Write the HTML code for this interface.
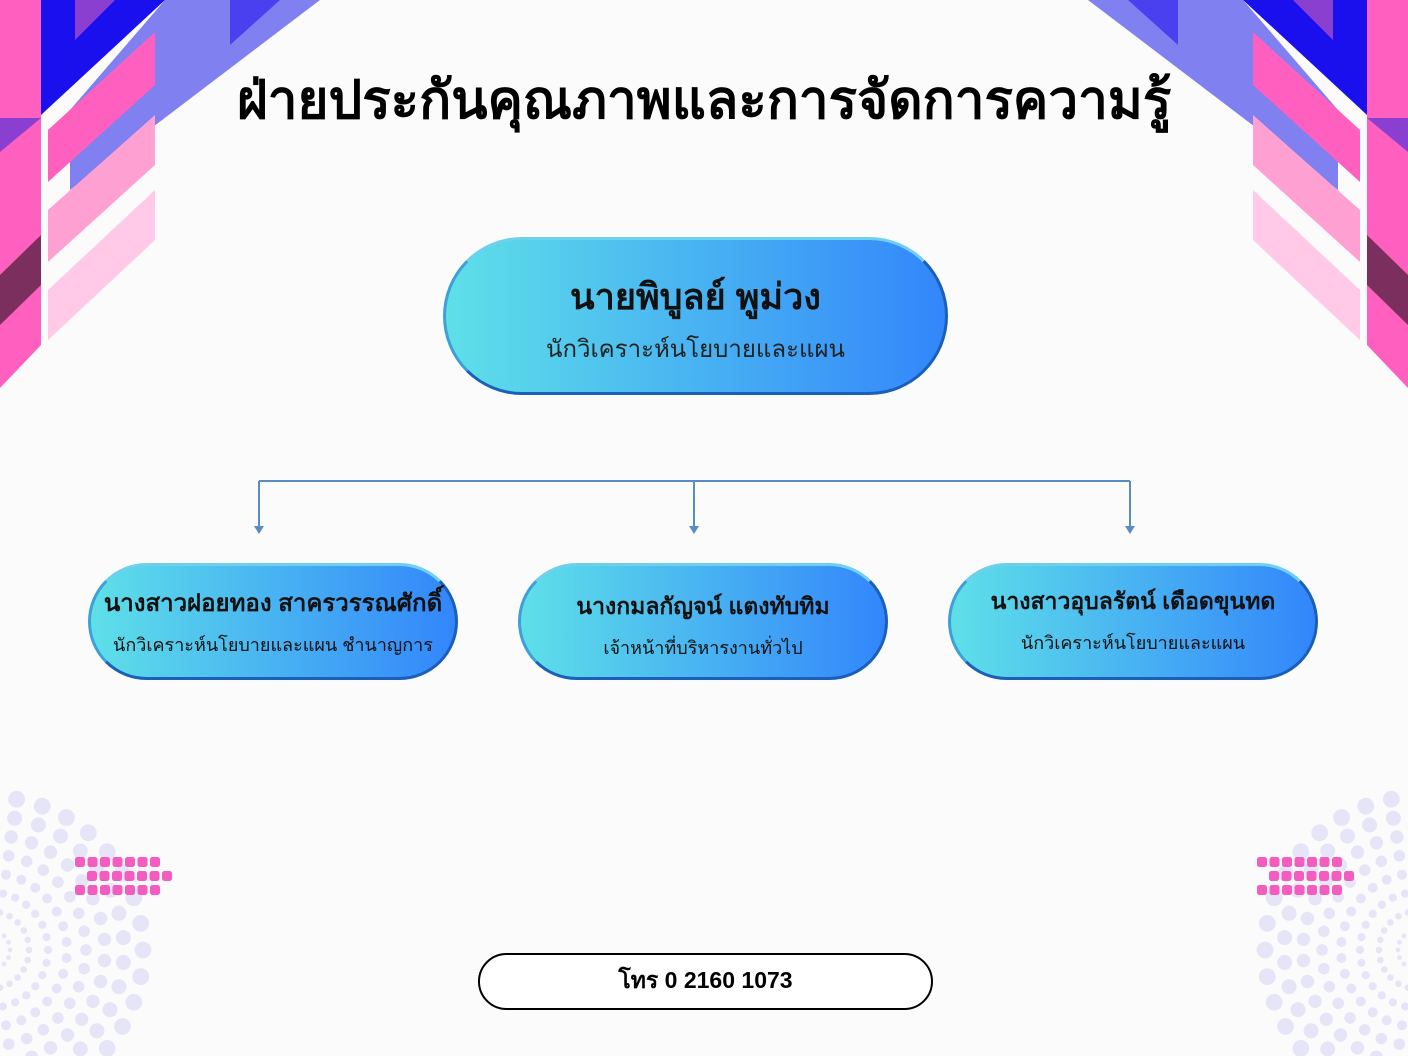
<!DOCTYPE html>
<html><head><meta charset="utf-8"><style>
body{margin:0;width:1408px;height:1056px;background:#fbfbfb;position:relative;overflow:hidden;font-family:"Liberation Sans","Noto Sans CJK SC","WenQuanYi Zen Hei",sans-serif;}
svg.bg{position:absolute;left:0;top:0}
.t{position:absolute;left:0;width:1408px;text-align:center;top:58px;font-size:53px;font-weight:bold;color:#000}
.box{position:absolute;box-sizing:border-box;border-radius:80px;background:linear-gradient(90deg,#5ee0e8,#3386fb);border:3px solid #1a5fb8;border-top-color:#6fd0ee;border-left-color:#3da0d8;text-align:center;color:#111}
.n{font-weight:bold}
.ph{position:absolute;left:478px;top:953px;width:455px;height:57px;box-sizing:border-box;border:2px solid #000;border-radius:30px;text-align:center;font-weight:bold;font-size:23px;line-height:51px;background:#fff}
</style></head><body>
<svg class="bg" width="1408" height="1056" id="s">
<g id="deco">
<polygon points="0,0 41,0 41,345 0,388" fill="#ff5fbf"/>
<polygon points="0,118 41,118 0,152" fill="#8a3fd0"/>
<polygon points="0,275 41,235 41,285 0,325" fill="#7a2f5f"/>
<polygon points="41,0 165,0 41,115" fill="#1a10ee"/>
<polygon points="75,0 115,0 75,40" fill="#8a3fd0"/>
<polygon points="165,0 320,0 70,190 70,110" fill="#8080f0"/>
<polygon points="230,0 280,0 230,45" fill="#4a40f0"/>
<polygon points="48,130 155,32 155,85 48,182" fill="#ff5fbf"/>
<polygon points="48,210 155,115 155,165 48,262" fill="#ffa0d2"/>
<polygon points="48,290 155,190 155,240 48,340" fill="#ffc9e7"/>
</g>
<use href="#deco" transform="translate(1408,0) scale(-1,1)"/>
<g id="dots"></g>
<g stroke="#5b8cc0" stroke-width="2" fill="none">
<path d="M259,481 H1130 M259,481 V528 M694,481 V528 M1130,481 V528"/>
</g>
<g fill="#5b8cc0"><path d="M254,526 h10 l-5,8z"/><path d="M689,526 h10 l-5,8z"/><path d="M1125,526 h10 l-5,8z"/></g>
</svg>
<div class="t">ฝ่ายประกันคุณภาพและการจัดการความรู้</div>
<div class="box" style="left:443px;top:237px;width:505px;height:158px">
<div class="n" style="font-size:36px;margin-top:28px">นายพิบูลย์ พูม่วง</div>
<div style="font-size:24px;margin-top:4px;color:#222">นักวิเคราะห์นโยบายและแผน</div></div>
<div class="box" style="left:88px;top:563px;width:370px;height:117px">
<div class="n" style="font-size:24px;margin-top:17px">นางสาวฝอยทอง สาครวรรณศักดิ์</div>
<div style="font-size:18px;margin-top:8px">นักวิเคราะห์นโยบายและแผน ชำนาญการ</div></div>
<div class="box" style="left:518px;top:563px;width:370px;height:117px">
<div class="n" style="font-size:23px;margin-top:23px">นางกมลกัญจน์ แตงทับทิม</div>
<div style="font-size:18px;margin-top:8px">เจ้าหน้าที่บริหารงานทั่วไป</div></div>
<div class="box" style="left:948px;top:563px;width:370px;height:117px">
<div class="n" style="font-size:23px;margin-top:18px">นางสาวอุบลรัตน์ เดือดขุนทด</div>
<div style="font-size:18px;margin-top:8px">นักวิเคราะห์นโยบายและแผน</div></div>
<div class="ph">โทร 0 2160 1073</div>
<script>
var g=document.getElementById('dots'),h='';
function side(cx,cy,dir){
 for(var r=20;r<=170;r+=19){var dr=1.5+r*0.045,n=Math.max(4,Math.round(Math.PI*r/(dr*3.2)));
  for(var i=0;i<=n;i++){var a=-Math.PI/2+Math.PI*i/n,x=cx+dir*r*Math.cos(a),y=cy+r*Math.sin(a);
   if(y<1060&&y>760)h+='<circle cx="'+x.toFixed(1)+'" cy="'+y.toFixed(1)+'" r="'+dr.toFixed(1)+'" fill="#e6e5f7"/>';}}
 var x0=dir>0?75:1257;
 for(var row=0;row<3;row++)for(var k=0;k<7;k++){var x=x0+k*12.5+(row==1?12:0);
  h+='<rect x="'+x+'" y="'+(857+row*14)+'" width="10" height="10" rx="2.5" fill="#f45cc0"/>';}
}
side(-10,950,1);side(1418,950,-1);
g.innerHTML=h;
</script>
</body></html>
